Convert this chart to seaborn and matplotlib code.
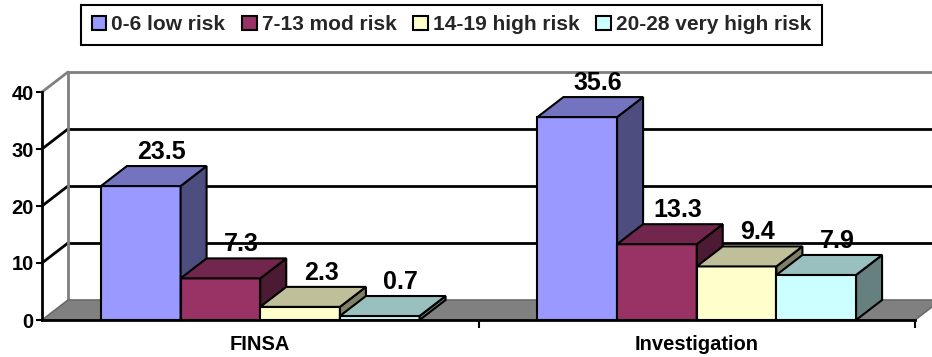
import numpy as np
import pandas as pd
import seaborn as sns
import matplotlib.pyplot as plt
import matplotlib.colors as mcolors
from matplotlib.patches import Polygon, Patch, Rectangle

# ---- data -------------------------------------------------------------
categories = ["FINSA", "Investigation"]
risk_levels = ["0-6 low risk", "7-13 mod risk", "14-19 high risk", "20-28 very high risk"]
low_risk = [23.5, 35.6]
mod_risk = [7.3, 13.3]
high_risk = [2.3, 9.4]
very_high_risk = [0.7, 7.9]
y_ticks = [0, 10, 20, 30, 40]

front_colors = ["#9999FF", "#993366", "#FFFFCC", "#CCFFFF"]

df = pd.DataFrame({
    "Group": categories * 4,
    "Risk": np.repeat(risk_levels, len(categories)),
    "Percent": low_risk + mod_risk + high_risk + very_high_risk,
})

# ---- figure -----------------------------------------------------------
sns.set_theme(style="white")
plt.rcParams["font.family"] = ["Liberation Sans", "DejaVu Sans"]
plt.rcParams["font.weight"] = "bold"

W, H = 932, 357
fig = plt.figure(figsize=(W / 100, H / 100), dpi=100)
ax_l, ax_b, ax_w, ax_h = 42, 37, 873, 228
ax = fig.add_axes([ax_l / W, ax_b / H, ax_w / W, ax_h / H])
ax.patch.set_visible(False)

sns.barplot(data=df, x="Group", y="Percent", hue="Risk", order=categories,
            hue_order=risk_levels, palette=front_colors, width=0.73,
            edgecolor="black", linewidth=1.5, saturation=1, errorbar=None,
            legend=False, ax=ax)

# the bar rectangles created by seaborn, ordered left to right
bars = sorted([p for p in ax.patches if isinstance(p, Rectangle)],
              key=lambda p: p.get_x())

xmin, xmax, ymin, ymax = -0.5, 1.5, 0, 40
ax.set_xlim(xmin, xmax)
ax.set_ylim(ymin, ymax)

# depth of the 3-D box, in pixels converted to data units
depth_px_x, depth_px_y = 26, 20
dx = depth_px_x * (xmax - xmin) / ax_w
dy = depth_px_y * (ymax - ymin) / ax_h

# back wall, floor and side-wall gridlines
wall = Polygon([(xmin + dx, dy), (xmax + dx + 1, dy), (xmax + dx + 1, ymax + dy),
                (xmin + dx, ymax + dy)], closed=True, facecolor="white",
               edgecolor="none", zorder=0.5, clip_on=False)
ax.add_patch(wall)
floor = Polygon([(xmin, 0), (xmax, 0), (xmax + dx, dy), (xmin + dx, dy)],
                closed=True, facecolor="#808080", edgecolor="#6a6a6a",
                linewidth=1.2, zorder=0.8, clip_on=False)
ax.add_patch(floor)
for v in y_ticks[1:]:
    col = "#808080" if v == ymax else "black"
    ax.plot([xmin + dx, xmax + dx + 1], [v + dy, v + dy], color=col, lw=2,
            zorder=0.7, clip_on=False, solid_capstyle="butt")
    ax.plot([xmin, xmin + dx], [v, v + dy], color=col, lw=2, zorder=0.7,
            clip_on=False)
ax.plot([xmin + dx, xmin + dx], [dy, ymax + dy], color="#808080", lw=2,
        zorder=0.7, clip_on=False)

# 3-D faces for each bar, drawn left to right so neighbours overlap properly
for i, p in enumerate(bars):
    x0, w, h = p.get_x(), p.get_width(), p.get_height()
    fc = np.array(mcolors.to_rgb(p.get_facecolor()))
    base = 2 + 3 * i
    p.set_zorder(base)
    top = Polygon([(x0, h), (x0 + w, h), (x0 + w + dx, h + dy), (x0 + dx, h + dy)],
                  closed=True, facecolor=fc * 0.75, edgecolor="black",
                  linewidth=1.5, zorder=base + 1, clip_on=False,
                  joinstyle="miter")
    side = Polygon([(x0 + w, 0), (x0 + w + dx, dy), (x0 + w + dx, h + dy), (x0 + w, h)],
                   closed=True, facecolor=fc * 0.5, edgecolor="black",
                   linewidth=1.5, zorder=base + 1, clip_on=False,
                   joinstyle="miter")
    ax.add_patch(side)
    ax.add_patch(top)
    ax.annotate(f"{h:.1f}", xy=(x0 + w / 2, h), xytext=(21 * 0.72, 34 * 0.72),
                textcoords="offset points", ha="center", va="center",
                fontsize=18, fontweight="bold", color="black", zorder=100,
                annotation_clip=False)

# axes styling
for s in ("top", "right"):
    ax.spines[s].set_visible(False)
for s in ("left", "bottom"):
    ax.spines[s].set_color("black")
    ax.spines[s].set_linewidth(2)
    ax.spines[s].set_zorder(60)

ax.set_yticks(y_ticks)
ax.set_yticklabels([str(t) for t in y_ticks], fontsize=14.5, fontweight="bold")
ax.tick_params(axis="y", direction="out", length=4, width=1.5, pad=2,
               colors="black", left=True)
ax.set_xticks(range(len(categories)))
ax.set_xticklabels(categories, fontsize=14.5, fontweight="bold")
ax.tick_params(axis="x", which="major", length=0, pad=11, colors="black")
ax.set_xticks([0.5, 1.5], minor=True)
ax.tick_params(axis="x", which="minor", direction="out", length=6, width=1.5,
               colors="black", bottom=True)
ax.set_xlabel("")
ax.set_ylabel("")

# legend
handles = [Patch(facecolor=c, edgecolor="black", linewidth=1.5, label=l)
           for c, l in zip(front_colors, risk_levels)]
leg = fig.legend(handles=handles, loc="upper center",
                 bbox_to_anchor=(451.5 / W, 1 - 5 / H), ncol=4, frameon=True,
                 fancybox=False, edgecolor="black", framealpha=1,
                 prop={"size": 15, "weight": "bold"}, handlelength=0.7,
                 handleheight=0.7, handletextpad=0.25, columnspacing=0.8,
                 borderpad=0.5, borderaxespad=0)
leg.get_frame().set_linewidth(1.5)

fig.savefig("out.png", dpi=100)
